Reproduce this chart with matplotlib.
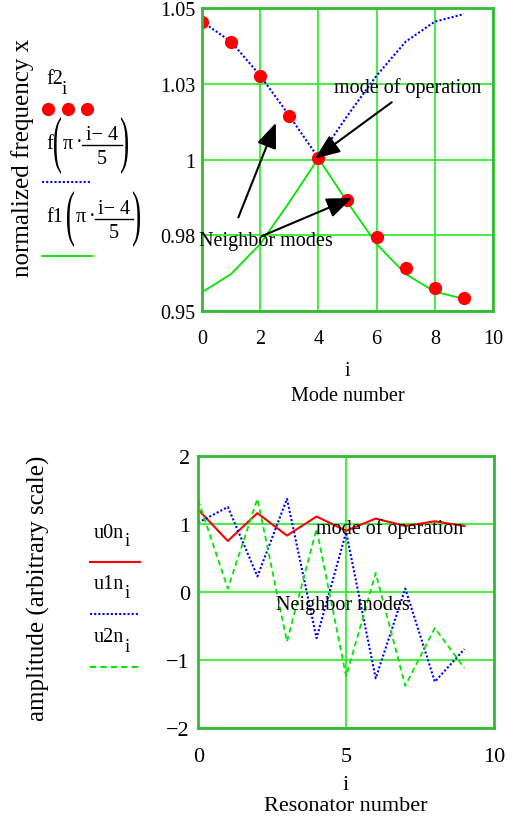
import matplotlib

matplotlib.use("Agg")
import matplotlib.pyplot as plt
from matplotlib.lines import Line2D
from matplotlib.patches import PathPatch
from matplotlib.textpath import TextPath
from matplotlib.font_manager import FontProperties
from matplotlib.transforms import Affine2D, IdentityTransform

plt.rcParams["font.family"] = ["Liberation Serif", "DejaVu Serif"]

# ---------------------------------------------------------------------------
# Data.
# ---------------------------------------------------------------------------
mode_i = list(range(10))
f2 = [1.0455, 1.0389, 1.0277, 1.0145, 1.0005, 0.9865, 0.9744, 0.9643, 0.9576, 0.9543]
f_curve = [1.0455, 1.0389, 1.0277, 1.0145, 1.0005, 1.0145, 1.0277, 1.0389, 1.0455, 1.0480]
f1_curve = [0.9562, 0.9622, 0.9721, 0.9859, 1.0004, 0.9859, 0.9721, 0.9622, 0.9564, 0.9540]

res_i = list(range(10))
u0n = [1.21, 0.75, 1.16, 0.83, 1.11, 0.90, 1.08, 0.97, 1.04, 0.97]
u1n = [1.02, 1.25, 0.23, 1.37, -0.68, 0.88, -1.27, 0.05, -1.32, -0.84]
u2n = [1.35, 0.05, 1.37, -0.73, 0.93, -1.24, 0.28, -1.38, -0.53, -1.12]

top_yticks = [0.95, 0.975, 1.0, 1.025, 1.05]
top_yticklabels = ["0.95", "0.98", "1", "1.03", "1.05"]
top_xticks = [0, 2, 4, 6, 8, 10]
bot_yticks = [-2, -1, 0, 1, 2]
bot_yticklabels = ["\u22122", "\u22121", "0", "1", "2"]
bot_xticks = [0, 5, 10]

# annotation arrows (start, tip) in data units of the top panel
top_arrows = [((1.25, 0.9809), (2.54, 1.0121)),
              ((2.05, 0.9747), (5.15, 0.9873)),
              ((6.52, 1.0189), (3.88, 1.0003))]

RED = "#ff0000"
BLUE = "#0000ff"
GREEN = "#00e600"
GRID = "#22ee22"
FRAME = "#33bb33"
FS = 14.5
FS_BOT = 16
W, H = 515, 820
SERIF = FontProperties(family="Liberation Serif")


def fx(px):
    return px / W


def fy(py):
    return 1 - py / H


def style_axes(ax, size):
    ax.grid(True, color=GRID, lw=1.2)
    ax.set_axisbelow(True)
    for s in ax.spines.values():
        s.set_color(FRAME)
        s.set_linewidth(2)
    ax.tick_params(length=0, labelsize=size)


def put(txt, x, y, size=FS, ha="left"):
    """text placed by pixel position (y measured from the top, vertical centre)"""
    fig.text(fx(x), fy(y), txt, fontsize=size, ha=ha, va="center")


def tall_paren(ch, x0, x1, ytop, ybot):
    """thin, vertically stretched parenthesis drawn from the glyph outline"""
    tp = TextPath((0, 0), ch, size=20, prop=SERIF)
    ext = tp.get_extents()
    sx = (x1 - x0) / ext.width
    sy = (ybot - ytop) / ext.height
    tr = (Affine2D().translate(-ext.x0, -ext.y0).scale(sx, sy)
          .translate(x0, H - ybot))
    fig.add_artist(PathPatch(tr.transform_path(tp), transform=IdentityTransform(),
                             facecolor="black", edgecolor="none"))


def fraction_legend(name, x_name, x_open, x_pi, x_dot, x_num0, x_num1, x_close,
                    ytop, ybot, ybar):
    put(name, x_name, (ytop + ybot) / 2 - 2)
    tall_paren("(", x_open, x_open + 7, ytop, ybot)
    put("\u03c0", x_pi, (ytop + ybot) / 2 - 2)
    put("\u00b7", x_dot, (ytop + ybot) / 2 - 3)
    put("i\u2212 4", (x_num0 + x_num1) / 2, ybar - 11, ha="center")
    fig.add_artist(Line2D([fx(x_num0), fx(x_num1)], [fy(ybar), fy(ybar)],
                          transform=fig.transFigure, color="black", lw=1))
    put("5", (x_num0 + x_num1) / 2, ybar + 14, ha="center")
    tall_paren(")", x_close, x_close + 7, ytop, ybot)


fig = plt.figure(figsize=(W / 100, H / 100), dpi=100)

# ---------------------------------------------------------------------------
# Top: normalized frequency vs mode number
# ---------------------------------------------------------------------------
ax1 = fig.add_axes([0.3922, 0.6195, 0.5651, 0.3695])
ax1.plot(mode_i, f_curve, color=BLUE, lw=1.5, ls=(0, (1, 1)))
ax1.plot(mode_i, f1_curve, color=GREEN, lw=1.3)
ax1.plot(mode_i, f2, ls="none", marker="o", ms=8.5, color=RED)
ax1.set_xlim(0, 10)
ax1.set_ylim(0.95, 1.05)
ax1.set_xticks(top_xticks)
ax1.set_yticks(top_yticks)
ax1.set_yticklabels(top_yticklabels)
style_axes(ax1, FS)
ax1.tick_params(axis="x", pad=13)
ax1.tick_params(axis="y", pad=5)
ax1.set_xlabel("i\nMode number", fontsize=FS, linespacing=1.45, labelpad=9)

for start, tip in top_arrows:
    ax1.annotate("", xy=tip, xytext=start,
                 arrowprops=dict(arrowstyle="-|>,head_length=0.55,head_width=0.22",
                                 mutation_scale=28, lw=1.5, color="black",
                                 shrinkA=0, shrinkB=0))
ax1.text(4.54, 1.0239, "mode of operation", fontsize=FS, va="center", ha="left")
ax1.text(-0.1, 0.9734, "Neighbor modes", fontsize=FS, va="center", ha="left")

fig.text(fx(23), fy(158), "normalized frequency x", rotation=90, fontsize=18,
         ha="center", va="center")

# legend block on the left
put("f2", 46, 80)
put("i", 62, 90, size=13.5)
for xd in (48, 68, 87):
    fig.add_artist(Line2D([fx(xd)], [fy(110)], transform=fig.transFigure, marker="o",
                          ms=8.5, color=RED, ls="none"))
fraction_legend("f", 46, 54, 63, 76, 82, 122, 121, 118, 175, 146)
fig.add_artist(Line2D([fx(42), fx(90)], [fy(183), fy(183)], transform=fig.transFigure,
                      color=BLUE, lw=1.5, ls=(0, (1, 1))))
fraction_legend("f1", 46, 67, 76, 89, 95, 133, 133, 192, 248, 220)
fig.add_artist(Line2D([fx(42), fx(92)], [fy(257), fy(257)], transform=fig.transFigure,
                      color=GREEN, lw=1.3))

# ---------------------------------------------------------------------------
# Bottom: amplitude vs resonator number
# ---------------------------------------------------------------------------
ax2 = fig.add_axes([0.385, 0.1110, 0.5742, 0.3317])
ax2.plot(res_i, u0n, color=RED, lw=1.5)
ax2.plot(res_i, u1n, color=BLUE, lw=1.5, ls=(0, (1, 1)))
ax2.plot(res_i, u2n, color=GREEN, lw=1.3, ls=(0, (3, 2)))
ax2.set_xlim(0, 10)
ax2.set_ylim(-2, 2)
ax2.set_xticks(bot_xticks)
ax2.set_yticks(bot_yticks)
ax2.set_yticklabels(bot_yticklabels)
style_axes(ax2, FS_BOT)
ax2.tick_params(axis="x", pad=14)
ax2.tick_params(axis="y", pad=6)
ax2.set_xlabel("i\nResonator number", fontsize=FS_BOT, linespacing=1.15, labelpad=6)
ax2.text(3.98, 0.94, "mode of operation", fontsize=FS, va="center", ha="left")
ax2.text(2.63, -0.18, "Neighbor modes", fontsize=FS, va="center", ha="left")

fig.text(fx(38), fy(588), "amplitude (arbitrary scale)", rotation=90, fontsize=18,
         ha="center", va="center")

for name, sub_x, ytxt, yline, col, ls in (("u0n", 125, 533, 563, RED, "-"),
                                          ("u1n", 125, 585, 615, BLUE, (0, (1, 1))),
                                          ("u2n", 125, 638, 668, GREEN, (0, (3, 2)))):
    put(name, 94, ytxt)
    put("i", sub_x, ytxt + 9, size=13.5)
    fig.add_artist(Line2D([fx(90), fx(140)], [fy(yline), fy(yline)],
                          transform=fig.transFigure, color=col, lw=1.5, ls=ls))

fig.savefig("out.png", dpi=100)
